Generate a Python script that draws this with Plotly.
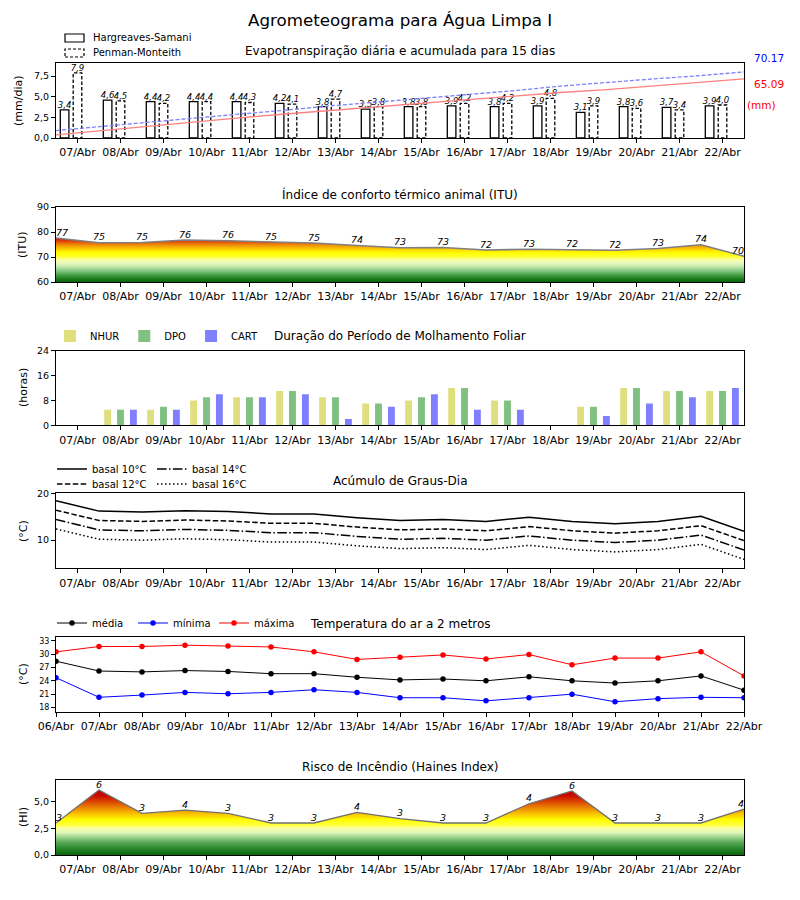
import numpy as np
import plotly.graph_objects as go

# ---------------- data ----------------
datas = ["06/Abr", "07/Abr", "08/Abr", "09/Abr", "10/Abr", "11/Abr", "12/Abr", "13/Abr",
         "14/Abr", "15/Abr", "16/Abr", "17/Abr", "18/Abr", "19/Abr", "20/Abr", "21/Abr", "22/Abr"]

et_hs = [3.4, 4.6, 4.4, 4.4, 4.4, 4.2, 3.8, 3.5, 3.8, 3.9, 3.8, 3.9, 3.1, 3.8, 3.7, 3.9]
et_pm = [7.9, 4.5, 4.2, 4.4, 4.3, 4.1, 4.7, 3.8, 3.8, 4.2, 4.2, 4.8, 3.9, 3.6, 3.4, 4.0]
acum_pm_total = 70.17
acum_hs_total = 65.09

itu = [77.6, 75.7, 75.8, 76.8, 76.5, 75.9, 75.6, 74.6, 73.7, 73.8, 72.8, 73.1, 72.9, 72.7, 73.4, 74.9, 70.3]

mf_nhur = [0, 5, 5, 8, 9, 11, 9, 7, 8, 12, 8, 0, 6, 12, 11, 11]
mf_dpo = [0, 5, 6, 9, 9, 11, 9, 7, 9, 12, 8, 0, 6, 12, 11, 11]
mf_cart = [0, 5, 5, 10, 9, 10, 2, 6, 10, 5, 5, 0, 3, 7, 9, 12]

t_max = [30.5, 31.7, 31.7, 32.0, 31.8, 31.6, 30.5, 28.8, 29.3, 29.8, 28.9, 29.9, 27.6, 29.1, 29.1, 30.5, 25.1]
t_med = [28.4, 26.2, 26.0, 26.3, 26.1, 25.6, 25.6, 24.8, 24.2, 24.4, 24.0, 24.9, 24.0, 23.5, 24.0, 25.1, 21.9]
t_min = [24.7, 20.3, 20.8, 21.4, 21.1, 21.4, 22.0, 21.4, 20.2, 20.2, 19.5, 20.2, 21.0, 19.3, 20.0, 20.3, 20.2]

bases = [10, 12, 14, 16]

haines = [3.0, 6.1, 3.9, 4.2, 3.9, 3.0, 3.0, 4.0, 3.4, 3.0, 3.0, 4.8, 6.0, 3.0, 3.0, 3.0, 4.3]

# ---------------- helpers ----------------
# the page body has an 8px margin, so the figure is 792x892 and reference pixel
# positions are converted with that offset
OX, OY = 8, 8
FW, FH = 792, 892
FONT = "DejaVu Sans"


def pxx(p):
    return (p - OX) / FW


def py(p):
    return 1 - (p - OY) / FH


def fmt(v):
    return f"{v:.1f}".replace(".", ",")


X_DOM = [pxx(56), pxx(744)]
panels_px = [(63, 138), (207, 282), (350.7, 425.3), (493.3, 568.3), (636.7, 712), (780.3, 855)]

fig = go.Figure()

n = len(et_hs)
idx = np.arange(n)
x17 = np.arange(len(datas))

# ---------------- panel 1: ET ----------------
bw = 0.2
x_hs = idx + 0.2
x_pm = idx + 0.5
fig.add_trace(go.Bar(x=x_hs, y=et_hs, width=bw, name="Hargreaves-Samani",
                     marker=dict(color="white", line=dict(color="black", width=1.3)),
                     showlegend=False, xaxis="x", yaxis="y"))
pxs, pys = [], []
for xc, v in zip(x_pm, et_pm):
    pxs += [xc - bw / 2, xc - bw / 2, xc + bw / 2, xc + bw / 2, xc - bw / 2, None]
    pys += [0, v, v, 0, 0, None]
fig.add_trace(go.Scatter(x=pxs, y=pys, mode="lines", fill="toself", fillcolor="white",
                         line=dict(color="black", width=1.3, dash="3.5px,2px"),
                         name="Penman-Monteith", showlegend=False, xaxis="x", yaxis="y"))
for xs, vals in ((x_hs, et_hs), (x_pm, et_pm)):
    fig.add_trace(go.Scatter(x=xs, y=vals, mode="text", text=[fmt(v) for v in vals],
                             textposition="top center", cliponaxis=False,
                             textfont=dict(size=8.5, style="italic", color="black", family=FONT),
                             showlegend=False, xaxis="x", yaxis="y"))
x_acum = np.linspace(0, 16, n)
fig.add_trace(go.Scatter(x=x_acum, y=np.cumsum(et_pm), mode="lines",
                         line=dict(color="#8080ff", width=1.3, dash="4px,2px"),
                         showlegend=False, xaxis="x", yaxis="y7"))
fig.add_trace(go.Scatter(x=x_acum, y=np.cumsum(et_hs), mode="lines",
                         line=dict(color="#ff8080", width=1.3),
                         showlegend=False, xaxis="x", yaxis="y7"))

# ---------------- panel 2: ITU ----------------
itu_cs = [[0.0, "#0a640a"], [0.075, "#1f7f1f"], [0.15, "#4ba34b"], [0.225, "#86c786"],
          [0.3, "#bfe6a6"], [0.375, "#e8f8c0"], [0.45, "#fbffa0"], [0.5, "#ffff33"],
          [0.575, "#ffff00"], [0.625, "#ffe600"], [0.675, "#f9c000"], [0.725, "#f29a05"],
          [0.775, "#e86c0a"], [0.825, "#dc3a0a"], [0.875, "#cc0a0a"], [1.0, "#b00000"]]
fig.add_trace(go.Scatter(x=x17, y=itu, mode="lines", fill="tozeroy",
                         fillgradient=dict(type="vertical", colorscale=itu_cs, start=60, stop=80),
                         line=dict(color="#808080", width=1.6), showlegend=False,
                         xaxis="x2", yaxis="y2"))
pos = ["top right"] + ["top center"] * (len(itu) - 2) + ["top left"]
fig.add_trace(go.Scatter(x=x17, y=itu, mode="text", text=[str(int(v)) for v in itu],
                         textposition=pos, cliponaxis=False,
                         textfont=dict(size=9.5, style="italic", color="black", family=FONT),
                         showlegend=False, xaxis="x2", yaxis="y2"))

# ---------------- panel 3: leaf wetness ----------------
mw = 0.16
for off, vals, name, col in ((0.2, mf_nhur, "NHUR", "#dfdf80"), (0.5, mf_dpo, "DPO", "#80c080"),
                             (0.8, mf_cart, "CART", "#8080ff")):
    fig.add_trace(go.Bar(x=idx + off, y=vals, width=mw, name=name,
                         marker=dict(color=col, line=dict(width=0)),
                         xaxis="x3", yaxis="y3", legend="legend2"))

# ---------------- panel 4: degree days ----------------
gd_styles = {10: "solid", 12: "5.5px,2.4px", 14: "9.6px,2.4px,1.5px,2.4px", 16: "1.5px,2.5px"}
gd_legend = {10: "legend3", 14: "legend3", 12: "legend4", 16: "legend4"}
for b in (10, 14, 12, 16):
    fig.add_trace(go.Scatter(x=x17, y=np.array(t_med) - b, mode="lines",
                             name=f"basal {b}°C",
                             line=dict(color="black", width=1.5, dash=gd_styles[b]),
                             xaxis="x4", yaxis="y4", legend=gd_legend[b]))

# ---------------- panel 5: temperature ----------------
for vals, name, col in ((t_med, "média", "black"), (t_min, "mínima", "blue"), (t_max, "máxima", "red")):
    fig.add_trace(go.Scatter(x=x17, y=vals, mode="lines+markers", name=name,
                             line=dict(color=col, width=1),
                             marker=dict(color=col, size=5.5),
                             xaxis="x5", yaxis="y5", legend="legend5"))

# ---------------- panel 6: fire risk ----------------
fire_cs = [[0.0, "#0a640a"], [0.6 / 7, "#2a862a"], [1.2 / 7, "#5aa95a"], [1.7 / 7, "#a0d690"],
           [2.1 / 7, "#dff5b8"], [2.5 / 7, "#f8ffa8"], [2.8 / 7, "#ffff40"], [3.3 / 7, "#ffff00"],
           [3.7 / 7, "#fcd200"], [4.1 / 7, "#f4a800"], [4.6 / 7, "#e67000"], [5.1 / 7, "#d83800"],
           [5.6 / 7, "#c80800"], [6.2 / 7, "#c00000"], [1.0, "#b00000"]]
fig.add_trace(go.Scatter(x=x17, y=haines, mode="lines", fill="tozeroy",
                         fillgradient=dict(type="vertical", colorscale=fire_cs, start=0, stop=7),
                         line=dict(color="#707070", width=1.3), showlegend=False,
                         xaxis="x6", yaxis="y6"))
fig.add_trace(go.Scatter(x=x17, y=haines, mode="text", text=[str(int(v)) for v in haines],
                         textposition=pos, cliponaxis=False,
                         textfont=dict(size=9.5, style="italic", color="black", family=FONT),
                         showlegend=False, xaxis="x6", yaxis="y6"))

# ---------------- axes ----------------
def axis_common(size=11):
    return dict(showline=True, linecolor="black", linewidth=1, mirror=True, ticks="outside",
                ticklen=4, tickcolor="black", showgrid=False, zeroline=False,
                tickfont=dict(family=FONT, size=size, color="black"))


layout = {}
mid_ticks = list(idx + 0.5)
for k, (top, bot) in enumerate(panels_px, start=1):
    xa = axis_common(11)
    xa.update(domain=X_DOM, range=[0, 16], anchor="y" if k == 1 else f"y{k}")
    if k == 5:
        xa.update(tickvals=list(x17), ticktext=datas)
    else:
        xa.update(tickvals=mid_ticks, ticktext=datas[1:])
    layout["xaxis" if k == 1 else f"xaxis{k}"] = xa
    ya = axis_common(9.5)
    ya.update(domain=[py(bot), py(top)], anchor="x" if k == 1 else f"x{k}")
    layout["yaxis" if k == 1 else f"yaxis{k}"] = ya

layout["yaxis"].update(range=[0, 9.085], tickvals=[0, 2.5, 5, 7.5], tickformat=".1f")
layout["yaxis2"].update(range=[60, 90], tickvals=[60, 70, 80, 90])
layout["yaxis3"].update(range=[0, 24], tickvals=[0, 8, 16, 24])
layout["yaxis4"].update(range=[4, 20], tickvals=[10, 20])
layout["yaxis5"].update(range=[17.0, 33.9], tickvals=[18, 21, 24, 27, 30, 33],
                        tickfont=dict(family=FONT, size=8, color="black"))
layout["yaxis6"].update(range=[0, 7], tickvals=[0, 2.5, 5], tickformat=".1f")
layout["yaxis7"] = dict(overlaying="y", anchor="x", side="right", range=[0, 79.3], visible=False)

# ---------------- legends ----------------
def leg(x, y, orient="h", size=10, entrywidth=None):
    d = dict(x=pxx(x), y=py(y), xanchor="left", yanchor="middle", orientation=orient,
             bgcolor="rgba(0,0,0,0)", borderwidth=0, itemwidth=30,
             font=dict(family=FONT, size=size, color="black"), tracegroupgap=0)
    if entrywidth:
        d.update(entrywidth=entrywidth, entrywidthmode="pixels")
    return d


layout["legend2"] = leg(50, 336)
layout["legend3"] = leg(52, 469, entrywidth=55)
layout["legend4"] = leg(52, 484, entrywidth=55)
layout["legend5"] = leg(52, 623, entrywidth=36)

# ---------------- annotations & legend swatches for panel 1 ----------------
ann = []
shapes = []


def text(t, x, y, size=11, color="black", angle=0, xanchor="center"):
    ann.append(dict(text=t, x=pxx(x), y=py(y), xref="paper", yref="paper", showarrow=False,
                    xanchor=xanchor, yanchor="middle", textangle=angle,
                    font=dict(family=FONT, size=size, color=color)))


text("Agrometeograma para Água Limpa I", 400, 20, 16.7)
text("Evapotranspiração diária e acumulada para 15 dias", 400, 51, 12)
text("Índice de conforto térmico animal (ITU)", 400, 194, 12)
text("Duração do Período de Molhamento Foliar", 400, 336, 12)
text("Acúmulo de Graus-Dia", 400, 481, 12)
text("Temperatura do ar a 2 metros", 400, 624, 12)
text("Risco de Incêndio (Haines Index)", 400, 767, 12)

text("(mm/dia)", 18, 101, 11, angle=-90)
text("(ITU)", 23, 245, 11, angle=-90)
text("(horas)", 23, 388, 11, angle=-90)
text("(°C)", 23, 531, 11, angle=-90)
text("(°C)", 23, 674, 11, angle=-90)
text("(HI)", 23, 817, 11, angle=-90)

text(f"{acum_pm_total:.2f}", 769, 58, 10.5, "blue")
text(f"{acum_hs_total:.2f}", 769, 84, 10.5, "red")
text("(mm)", 761, 105, 10.5, "red")

for yc, label, dash in ((38, "Hargreaves-Samani", "solid"), (53, "Penman-Monteith", "3px,2px")):
    shapes.append(dict(type="rect", xref="paper", yref="paper", x0=pxx(65), x1=pxx(84),
                       y0=py(yc + 4), y1=py(yc - 4), fillcolor="white",
                       line=dict(color="black", width=1.2, dash=dash)))
    text(label, 91, yc, 10, xanchor="left")

fig.update_layout(**layout)
fig.update_layout(width=FW, height=FH, margin=dict(l=0, r=0, t=0, b=0, autoexpand=False),
                  paper_bgcolor="white", plot_bgcolor="white", barmode="overlay",
                  separators=",.", font=dict(family=FONT, color="black"),
                  annotations=ann, shapes=shapes, hovermode=False)

fig.write_html("out.html")
